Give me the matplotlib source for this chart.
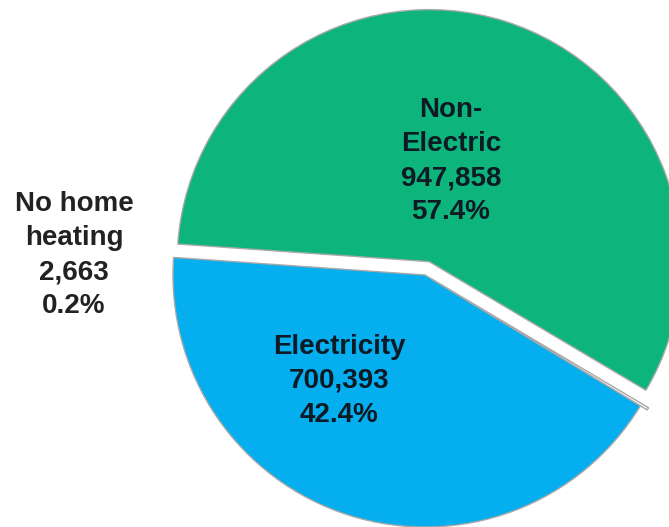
import numpy as np
import matplotlib.pyplot as plt

#==============================
#           DATA
#==============================
labels = ["Electricity", "No home\nheating", "Non-\nElectric"]
values = [700393, 2663, 947858]
colors = ["#05AEEE", "#FFFFFF", "#0DB57C"]
explode = [0.0, 8.0, 14.0]   # pie() adds these in data units (pixels here)

total = float(sum(values))
pcts = [100.0 * v / total for v in values]

#==============================
#           FIGURE
#==============================
W, H = 669, 527
fig = plt.figure(figsize=(W / 100.0, H / 100.0), dpi=100)
ax = fig.add_axes([0, 0, 1, 1])

R = 252.0
wedges, _ = ax.pie(values, colors=colors, explode=explode, startangle=176,
                   counterclock=True, radius=R, center=(425, H - 275),
                   frame=True,
                   wedgeprops=dict(edgecolor='#A8A8A8', linewidth=1.0))
ax.set_xlim(0, W)
ax.set_ylim(0, H)
ax.set_aspect('equal')
ax.axis('off')

# ****** slice labels ******
def lab(i):
    return "%s\n%s\n%.1f%%" % (labels[i], format(values[i], ","), pcts[i])

txt = dict(fontsize=20, fontweight='bold', family='Liberation Sans',
           ha='center', va='center', linespacing=1.4)
ax.text(451, H - 161, lab(2), color='#0E1A24', **txt)
ax.text(339, H - 381, lab(0), color='#0E1A24', **txt)
ax.text(74, H - 255, lab(1), color='#222222', **txt)

fig.savefig("out.png", dpi=100)
